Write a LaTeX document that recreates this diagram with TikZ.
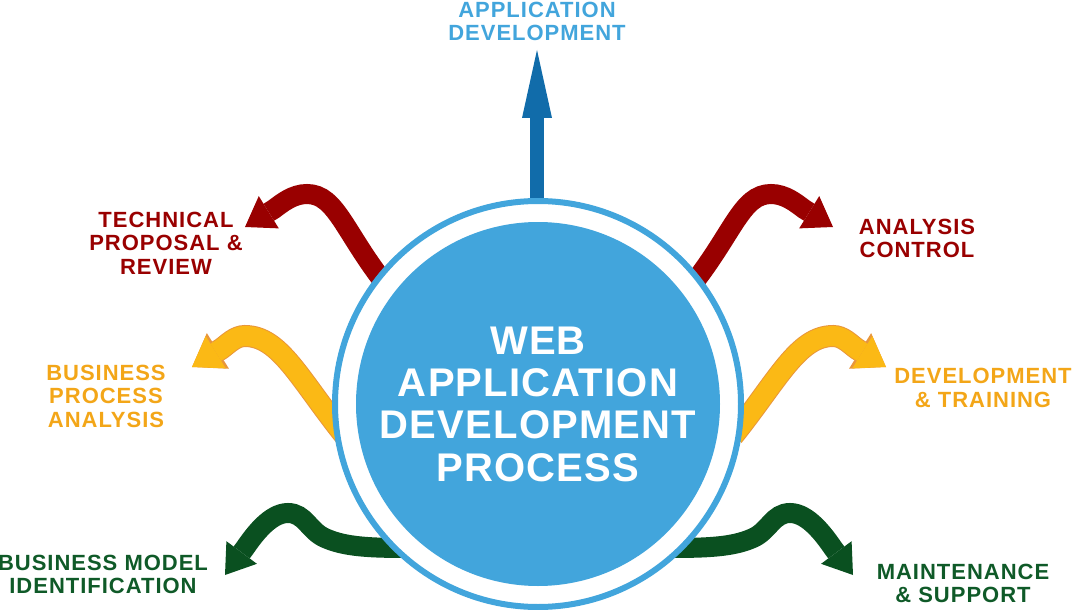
\documentclass[tikz,border=0pt]{standalone}
\usepackage{fontspec}
\setmainfont{Liberation Sans}
\usetikzlibrary{arrows.meta}
\definecolor{mblue}{RGB}{66,165,220}
\definecolor{mdblue}{RGB}{17,108,170}
\definecolor{mred}{RGB}{153,0,0}
\definecolor{myellow}{RGB}{251,185,21}
\definecolor{mborder}{RGB}{232,150,60}
\definecolor{morange}{RGB}{243,166,24}
\definecolor{mgreen}{RGB}{10,80,32}
\definecolor{mtgreen}{RGB}{15,90,40}

\begin{document}
\begin{tikzpicture}[x=1pt, y=-1pt,
    wave/.style={line width=20pt, -{Triangle[length=28pt, width=38pt, line width=0pt]}},
    rim/.style={line width=22pt, -{Triangle[length=30.5pt, width=42pt, line width=0pt]}},
    tag/.style={align=center, inner sep=0pt, font=\bfseries\fontsize{22}{23.5}\selectfont\addfontfeature{LetterSpace=4.5}}]
    \useasboundingbox (0,0) rectangle (1072,610);

    \coordinate (ad_start)  at (537,215);
    \coordinate (ad_tip)    at (537,50);
    \coordinate (tpr_start) at (390,290);
    \coordinate (tpr_tip)   at (245,227);
    \coordinate (ac_start)  at (688,290);
    \coordinate (ac_tip)    at (833,227);
    \coordinate (bpa_start) at (345,436);
    \coordinate (bpa_tip)   at (192,367);
    \coordinate (dt_start)  at (733,436);
    \coordinate (dt_tip)    at (886,367);
    \coordinate (bmi_start) at (410,548);
    \coordinate (bmi_tip)   at (225,575);
    \coordinate (ms_start)  at (668,548);
    \coordinate (ms_tip)    at (853,575);

    \draw[mdblue, line width=14pt, -{Triangle[length=68pt, width=30pt, line width=0pt]}] (ad_start) -- (ad_tip);
    \draw[wave, mred] (tpr_start) .. controls (345,235) and (337,194) .. (307,194) .. controls (293,194) and (282,203) .. (274,209) -- (tpr_tip);
    \draw[wave, mred] (ac_start) .. controls (733,235) and (741,194) .. (771,194) .. controls (785,194) and (796,203) .. (804,209) -- (ac_tip);
    \draw[rim, mborder] (bpa_start) .. controls (300,380) and (280,336) .. (245,336) .. controls (235,336) and (228,344) .. (221,349) -- (bpa_tip);
    \draw[wave, myellow] (bpa_start) .. controls (300,380) and (280,336) .. (245,336) .. controls (235,336) and (228,344) .. (221,349) -- (bpa_tip);
    \draw[rim, mborder] (dt_start) .. controls (778,380) and (798,336) .. (833,336) .. controls (843,336) and (850,344) .. (857,349) -- (dt_tip);
    \draw[wave, myellow] (dt_start) .. controls (778,380) and (798,336) .. (833,336) .. controls (843,336) and (850,344) .. (857,349) -- (dt_tip);
    \draw[wave, mgreen] (bmi_start) .. controls (370,548) and (345,547) .. (325,538) .. controls (309,531) and (305,513) .. (288,513) .. controls (270,513) and (254,535) .. (245,548) -- (bmi_tip);
    \draw[wave, mgreen] (ms_start) .. controls (708,548) and (733,547) .. (753,538) .. controls (769,531) and (773,513) .. (790,513) .. controls (808,513) and (824,535) .. (833,548) -- (ms_tip);

    \node[circle, draw=mblue, fill=white, line width=6pt, minimum size=406pt, inner sep=0pt] (ring) at (538,404) {};
    \node[circle, fill=mblue, minimum size=364pt, inner sep=0pt, text=white, align=center,
          font=\bfseries\fontsize{40}{42.3}\selectfont\addfontfeature{LetterSpace=3}] (hub) at (538,404) {WEB\\APPLICATION\\DEVELOPMENT\\PROCESS};

    \node[tag, text=mblue]   (ad)  at (537,21.5)  {APPLICATION\\DEVELOPMENT};
    \node[tag, text=mred]    (tpr) at (166,243)   {TECHNICAL\\PROPOSAL \&\\REVIEW};
    \node[tag, text=mred]    (ac)  at (917,238.5) {ANALYSIS\\CONTROL};
    \node[tag, text=morange] (bpa) at (106,396)   {BUSINESS\\PROCESS\\ANALYSIS};
    \node[tag, text=morange] (dt)  at (983,388)   {DEVELOPMENT\\\& TRAINING};
    \node[tag, text=mtgreen] (bmi) at (103,574.5) {BUSINESS MODEL\\IDENTIFICATION};
    \node[tag, text=mtgreen] (ms)  at (963,583.5) {MAINTENANCE\\\& SUPPORT};
\end{tikzpicture}
\end{document}
